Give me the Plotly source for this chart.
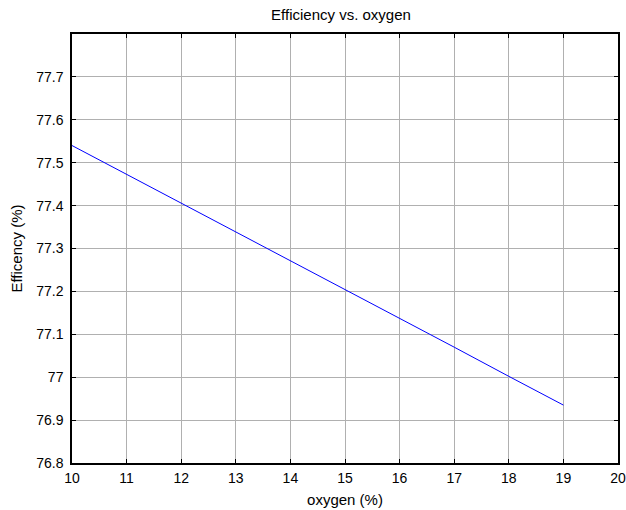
import plotly.graph_objects as go

oxygen = [10, 11, 12, 13, 14, 15, 16, 17, 18, 19]
efficiency = [77.540, 77.473, 77.406, 77.338, 77.271, 77.204, 77.137, 77.070, 77.002, 76.935]
x_ticks = [10, 11, 12, 13, 14, 15, 16, 17, 18, 19, 20]
y_ticks = [76.8, 76.9, 77.0, 77.1, 77.2, 77.3, 77.4, 77.5, 77.6, 77.7]
y_labels = ["76.8", "76.9", "77", "77.1", "77.2", "77.3", "77.4", "77.5", "77.6", "77.7"]

fig = go.Figure()
fig.add_trace(go.Scatter(x=oxygen, y=efficiency, mode="lines",
                         line=dict(color="#0000ff", width=1), showlegend=False))

W, H = 626, 510
fam = "Liberation Sans, Arial, sans-serif"
fig.update_layout(
    width=W, height=H,
    margin=dict(l=72, r=8, t=34, b=47, autoexpand=False),
    paper_bgcolor="white", plot_bgcolor="white",
    font=dict(family=fam, size=14, color="black"),
    title=dict(text="Efficiency vs. oxygen", x=341 / W, xanchor="center", xref="container",
               y=1 - 15 / H, yanchor="middle", yref="container",
               font=dict(size=15, family=fam, color="black")),
)
fig.update_xaxes(range=[10, 20], tickvals=x_ticks, ticks="inside", ticklen=4, tickcolor="black",
                 showline=True, linecolor="black", linewidth=1.5, mirror="ticks",
                 showgrid=True, gridcolor="#b0b0b0", gridwidth=1, zeroline=False, automargin=False,
                 ticklabelstandoff=1,
                 title=dict(text="oxygen (%)", standoff=10, font=dict(size=15)),
                 tickfont=dict(size=14))
fig.update_yaxes(range=[76.8, 77.8], tickvals=y_ticks, ticktext=y_labels, ticks="inside", ticklen=4,
                 tickcolor="black", showline=True, linecolor="black", linewidth=1.5, mirror="ticks",
                 showgrid=True, gridcolor="#b0b0b0", gridwidth=1, zeroline=False, automargin=False,
                 ticklabelstandoff=4,
                 title=dict(text="Efficency (%)", standoff=10, font=dict(size=15)),
                 tickfont=dict(size=14))

fig.write_html("out.html", config={"displayModeBar": False},
               post_script="document.body.style.margin='0';"
                           "document.documentElement.style.overflow='hidden';")
